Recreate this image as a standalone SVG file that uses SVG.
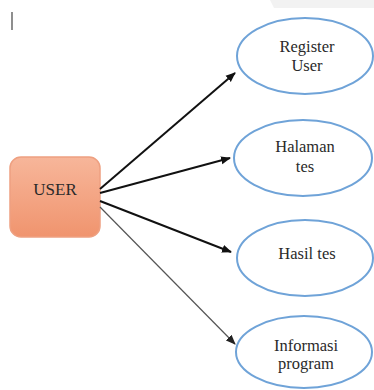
<svg xmlns="http://www.w3.org/2000/svg" width="374" height="390" viewBox="0 0 374 390">
<defs>
<linearGradient id="g" x1="0" y1="0" x2="0" y2="1"><stop offset="0" stop-color="#f7b69a"/><stop offset="1" stop-color="#f0946e"/></linearGradient>
<marker id="ah" markerWidth="10" markerHeight="10" refX="9" refY="5" orient="auto" markerUnits="userSpaceOnUse"><path d="M0,1 L10,5 L0,9 z" fill="#111"/></marker>
<marker id="ah2" markerWidth="10" markerHeight="10" refX="9" refY="5" orient="auto" markerUnits="userSpaceOnUse"><path d="M0,1 L10,5 L0,9 z" fill="#222"/></marker>
<style>
.uc{fill:#fff;stroke:#6fa3d8;stroke-width:2}
.c{stroke:#111;stroke-width:2;fill:none;marker-end:url(#ah)}
</style>
</defs>
<rect width="374" height="390" fill="#fff"/>
<path d="M270,0 L374,0 L374,8 L274,8 z" fill="#f2f2f2"/>
<line x1="12" y1="12" x2="12" y2="30" stroke="#444" stroke-width="1.2"/>
<g font-family="Liberation Serif, DejaVu Serif, serif" font-size="16.5" fill="#2a2a2a" text-anchor="middle">
<g id="user"><rect x="10" y="157" width="90" height="80" rx="11" fill="url(#g)" stroke="#eea081" stroke-width="1.5"/><text x="55" y="195" font-size="17">USER</text></g>
<g id="register"><ellipse class="uc" cx="305" cy="56" rx="68" ry="38"/><text x="307" y="52">Register</text><text x="307" y="71">User</text></g>
<g id="halaman"><ellipse class="uc" cx="303" cy="158" rx="69" ry="38"/><text x="305" y="152">Halaman</text><text x="305" y="172">tes</text></g>
<g id="hasil"><ellipse class="uc" cx="305" cy="258" rx="68" ry="38"/><text x="307" y="259">Hasil tes</text></g>
<g id="informasi"><ellipse class="uc" cx="304" cy="352" rx="68" ry="36"/><text x="306" y="351">Informasi</text><text x="306" y="369">program</text></g>
</g>
<g id="connectors">
<line class="c" x1="100" y1="189" x2="235" y2="73"/>
<line class="c" x1="100" y1="193" x2="230" y2="158"/>
<line class="c" x1="100" y1="201" x2="231" y2="252"/>
<line x1="100" y1="207" x2="235" y2="344" stroke="#555" stroke-width="1.2" marker-end="url(#ah2)"/>
</g>
</svg>
